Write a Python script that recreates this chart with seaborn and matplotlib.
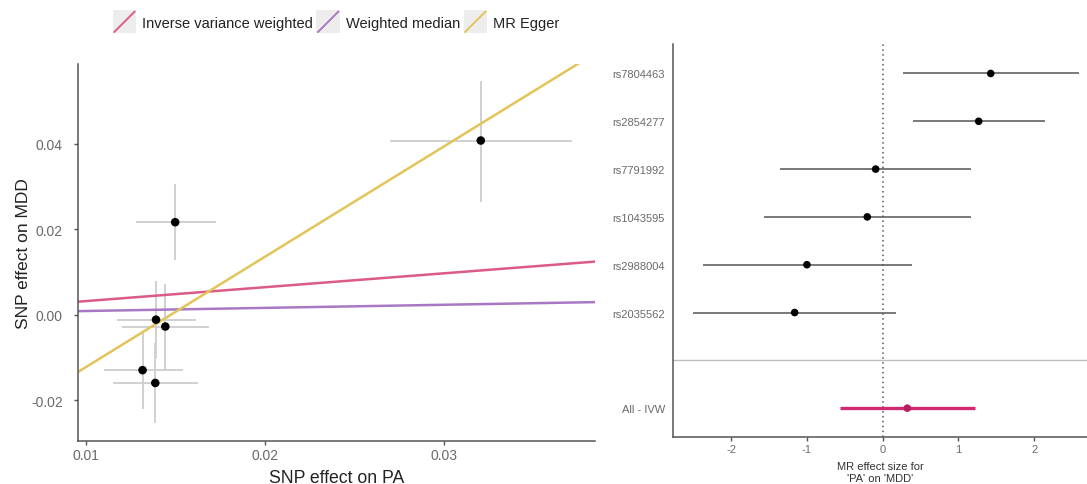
import numpy as np
import pandas as pd
import matplotlib
matplotlib.use("Agg")
import matplotlib.pyplot as plt
import seaborn as sns
from matplotlib.lines import Line2D
from matplotlib.legend_handler import HandlerBase
from matplotlib.patches import Rectangle

sns.set_theme(style="white")
plt.rcParams["font.family"] = ["Liberation Sans", "DejaVu Sans"]

# ---- SNP-level associations (exposure PA, outcome MDD) ----
snp_beta_pa = [0.03204, 0.01498, 0.01391, 0.01443, 0.01316, 0.01387]
snp_pa_lo = [0.02698, 0.01279, 0.01171, 0.01199, 0.01098, 0.01151]
snp_pa_hi = [0.03712, 0.01725, 0.01615, 0.01685, 0.01540, 0.01625]
snp_beta_mdd = [0.0408, 0.0217, -0.0011, -0.0027, -0.0129, -0.0159]
snp_mdd_lo = [0.0265, 0.0129, -0.0100, -0.0128, -0.0220, -0.0253]
snp_mdd_hi = [0.0548, 0.0306, 0.0079, 0.0073, -0.0037, -0.0065]

# ---- MR method fits ----
methods = ["Inverse variance weighted", "Weighted median", "MR Egger"]
method_slope = [0.325, 0.073, 2.582]
method_intercept = [0.0, 0.0002, -0.0380]
method_colors = ["#dc5a86", "#a878c4", "#e2c45a"]

# ---- single-SNP MR estimates (forest plot) ----
snp_ids = ["rs7804463", "rs2854277", "rs7791992", "rs1043595", "rs2988004", "rs2035562"]
snp_b = [1.425, 1.266, -0.093, -0.203, -0.999, -1.161]
snp_lo = [0.264, 0.404, -1.355, -1.566, -2.375, -2.498]
snp_hi = [2.590, 2.141, 1.169, 1.169, 0.391, 0.180]
ivw_label = "All - IVW"
ivw_b, ivw_lo, ivw_hi = 0.325, -0.563, 1.218

fig = plt.figure(figsize=(10.87, 4.85), dpi=100)
ax1 = fig.add_axes([0.0720, 0.0893, 0.4751, 0.7767])
ax2 = fig.add_axes([0.6194, 0.0975, 0.3806, 0.8097])

axis_grey = "#555555"
tick_grey = "#6a6a6a"

# ---------------- scatter panel ----------------
scatter_df = pd.DataFrame({
    "pa": snp_beta_pa, "mdd": snp_beta_mdd,
    "pa_lo": snp_pa_lo, "pa_hi": snp_pa_hi,
    "mdd_lo": snp_mdd_lo, "mdd_hi": snp_mdd_hi,
})
ax1.hlines(scatter_df["mdd"], scatter_df["pa_lo"], scatter_df["pa_hi"],
           color="#d0d0d0", lw=1.4, zorder=1)
ax1.vlines(scatter_df["pa"], scatter_df["mdd_lo"], scatter_df["mdd_hi"],
           color="#d0d0d0", lw=1.4, zorder=1)
x_lo, x_hi = 0.00957, 0.0384
xs = np.array([x_lo, x_hi])
for name, b, a, c in zip(methods, method_slope, method_intercept, method_colors):
    sns.lineplot(x=xs, y=a + b * xs, ax=ax1, color=c, lw=1.8, zorder=2)
sns.scatterplot(data=scatter_df, x="pa", y="mdd", ax=ax1, color="black",
                s=38, edgecolor="none", zorder=3)
ax1.set_xlim(x_lo, x_hi)
ax1.set_ylim(-0.0294, 0.0587)
ax1.set_xticks([0.01, 0.02, 0.03])
ax1.set_xticklabels(["0.01", "0.02", "0.03"])
ax1.set_yticks([-0.02, 0.0, 0.02, 0.04])
ax1.set_yticklabels(["-0.02", "0.00", "0.02", "0.04"])
ax1.set_xlabel("SNP effect on PA", fontsize=12.7, color="#222222", labelpad=5)
ax1.set_ylabel("SNP effect on MDD", fontsize=12.5, color="#222222", labelpad=0)
for side in ["top", "right"]:
    ax1.spines[side].set_visible(False)
for side in ["left", "bottom"]:
    ax1.spines[side].set_color(axis_grey)
    ax1.spines[side].set_linewidth(1.1)
ax1.tick_params(axis="both", which="both", direction="out", length=3, width=1,
                color=axis_grey, labelcolor=tick_grey, labelsize=10, bottom=True, left=True)
ax1.tick_params(axis="y", pad=8)
ax1.tick_params(axis="x", pad=2)


class DiagonalKey(HandlerBase):
    def create_artists(self, legend, orig_handle, xdescent, ydescent,
                       width, height, fontsize, trans):
        size = max(width, height)
        x0 = -xdescent + (width - size) / 2
        y0 = -ydescent + (height - size) / 2
        bg = Rectangle((x0, y0), size, size, facecolor="#ededed",
                       edgecolor="none", transform=trans)
        ln = Line2D([x0 + 1, x0 + size - 1], [y0 + 1, y0 + size - 1],
                    color=orig_handle.get_color(), lw=1.4, transform=trans)
        return [bg, ln]


handles = [Line2D([], [], color=c) for c in method_colors]
fig.legend(handles, methods, handler_map={Line2D: DiagonalKey()},
           loc="center", bbox_to_anchor=(0.309, 0.953), ncol=3, frameon=False,
           fontsize=10.5, handlelength=1.6, handleheight=1.6, handletextpad=0.4,
           columnspacing=0.25, labelcolor="#222222")

# ---------------- forest panel ----------------
forest_df = pd.DataFrame({
    "label": snp_ids + [ivw_label],
    "b": snp_b + [ivw_b], "lo": snp_lo + [ivw_lo], "hi": snp_hi + [ivw_hi],
    "pos": list(range(len(snp_ids))) + [len(snp_ids) + 1],
})
snp_rows = forest_df.iloc[:-1]
ivw_row = forest_df.iloc[-1:]
ax2.axvline(0, color="#555555", ls=(0, (1, 2.2)), lw=1.1, zorder=1)
ax2.axhline(len(snp_ids), color="#bdbdbd", lw=1.0, zorder=1)
ax2.hlines(snp_rows["pos"], snp_rows["lo"], snp_rows["hi"], color="#555555", lw=1.1, zorder=2)
sns.scatterplot(data=snp_rows, x="b", y="pos", ax=ax2, color="black", s=30,
                edgecolor="none", zorder=3)
ax2.hlines(ivw_row["pos"], ivw_row["lo"], ivw_row["hi"], color="#d02872", lw=2.4, zorder=2)
sns.scatterplot(data=ivw_row, x="b", y="pos", ax=ax2, color="#b81c62", s=30,
                edgecolor="none", zorder=3)
ax2.set_xlim(-2.762, 2.695)
ax2.set_ylim(7.597, -0.616)
ax2.set_yticks(forest_df["pos"])
ax2.set_yticklabels(forest_df["label"])
ax2.set_xticks([-2, -1, 0, 1, 2])
ax2.set_xticklabels(["-2", "-1", "0", "1", "2"])
ax2.set_xlabel("MR effect size for\n'PA' on 'MDD'", fontsize=8, color="#333333",
               labelpad=4.5, linespacing=1.35)
ax2.set_ylabel("")
for side in ["top", "right"]:
    ax2.spines[side].set_visible(False)
for side in ["left", "bottom"]:
    ax2.spines[side].set_color(axis_grey)
    ax2.spines[side].set_linewidth(1.1)
ax2.tick_params(axis="x", direction="out", length=3, width=1, color=axis_grey,
                labelcolor=tick_grey, labelsize=8, pad=2.5, bottom=True)
ax2.tick_params(axis="y", length=0, labelcolor=tick_grey, labelsize=8, pad=6, left=False)

fig.savefig("out.png", dpi=100)
